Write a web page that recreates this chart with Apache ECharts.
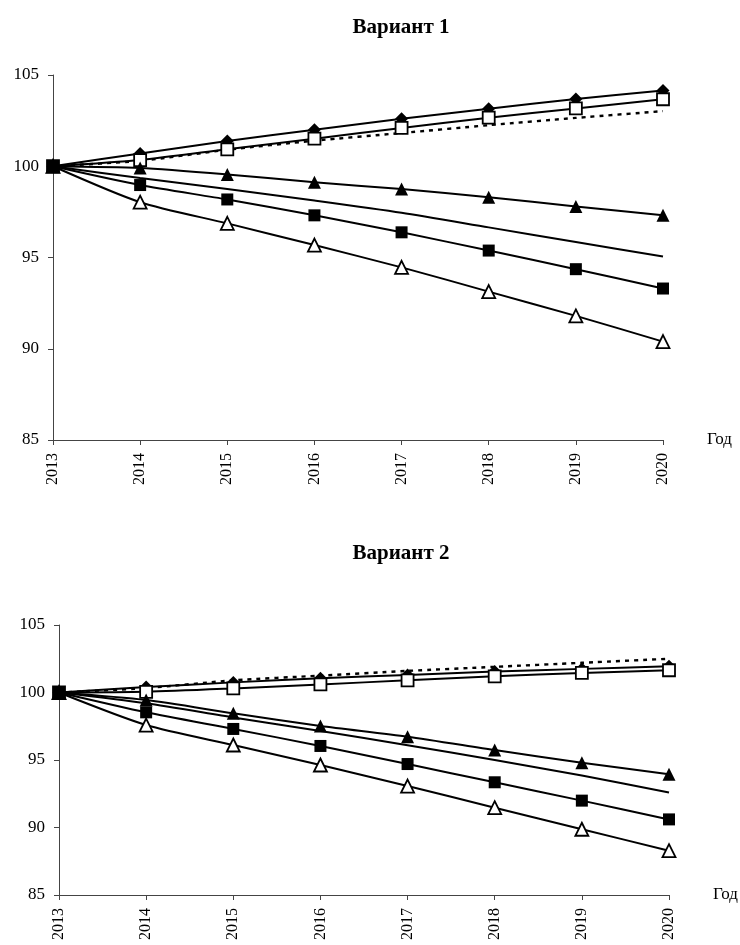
<!DOCTYPE html>
<html>
<head>
<meta charset="utf-8">
<script src="https://cdn.jsdelivr.net/npm/echarts@6/dist/echarts.min.js"></script>
<style>html,body{margin:0;padding:0;background:#fff}#c{width:740px;height:945px}</style>
</head>
<body>
<div id="c"></div>
<script>
var years = ['2013','2014','2015','2016','2017','2018','2019','2020'];
var yTicks = [85, 90, 95, 100, 105];
var titles = ['Вариант 1', 'Вариант 2'];
var xName = 'Год';

// Вариант 1
var v1Diamond  = [100, 100.7, 101.38, 102.0, 102.6, 103.15, 103.68, 104.15];
var v1OpenSq   = [100, 100.34, 100.93, 101.51, 102.1, 102.66, 103.17, 103.67];
var v1Dashed   = [100, 100.3, 100.9, 101.4, 101.82, 102.25, 102.65, 103.02];
var v1FillTri  = [100, 99.9, 99.55, 99.12, 98.75, 98.3, 97.8, 97.32];
var v1Plain    = [100, 99.35, 98.75, 98.12, 97.45, 96.65, 95.85, 95.05];
var v1FillSq   = [100, 98.97, 98.18, 97.31, 96.38, 95.38, 94.36, 93.3];
var v1OpenTri  = [100, 98.03, 96.87, 95.68, 94.46, 93.13, 91.8, 90.39];

// Вариант 2
var v2Diamond  = [100, 100.4, 100.75, 101.05, 101.3, 101.55, 101.75, 101.95];
var v2OpenSq   = [100, 100.05, 100.3, 100.6, 100.9, 101.2, 101.45, 101.65];
var v2Dashed   = [100, 100.33, 100.9, 101.25, 101.6, 101.9, 102.2, 102.5];
var v2FillTri  = [100, 99.44, 98.46, 97.52, 96.73, 95.74, 94.8, 93.94];
var v2Plain    = [100, 99.2, 98.15, 97.15, 96.1, 95.0, 93.85, 92.6];
var v2FillSq   = [100, 98.53, 97.3, 96.04, 94.7, 93.35, 91.99, 90.6];
var v2OpenTri  = [100, 97.59, 96.11, 94.63, 93.07, 91.47, 89.87, 88.28];

var font = '"Liberation Serif", "Times New Roman", serif';
var grids = [
  {left: 53, right: 77, top: 75, height: 365},
  {left: 59, right: 71, top: 625, height: 270}
];

function xAxis(i) {
  return {
    type: 'category', gridIndex: i, data: years, boundaryGap: false,
    name: xName, nameLocation: 'end', nameGap: 44,
    nameTextStyle: {fontFamily: font, fontSize: 17, color: '#000', verticalAlign: 'middle', padding: [12, 0, 0, 0]},
    axisLine: {lineStyle: {color: '#444', width: 1}},
    axisTick: {show: true, alignWithLabel: true, length: 5, lineStyle: {color: '#444'}},
    axisLabel: {rotate: 90, fontFamily: font, fontSize: 16, color: '#000', margin: 13, interval: 0},
    splitLine: {show: false}
  };
}
function yAxis(i) {
  return {
    type: 'value', gridIndex: i, min: yTicks[0], max: yTicks[yTicks.length - 1], interval: 5,
    axisLine: {show: true, lineStyle: {color: '#444', width: 1}},
    axisTick: {show: true, length: 5, lineStyle: {color: '#444'}},
    axisLabel: {fontFamily: font, fontSize: 17, color: '#000', margin: 14},
    splitLine: {show: false}
  };
}

function line(i, data, symbol, fill, dashed, size) {
  return {
    type: 'line', xAxisIndex: i, yAxisIndex: i, data: data,
    smooth: 0.25,
    symbol: symbol || 'none', symbolSize: size || 10, showSymbol: !!symbol,
    lineStyle: {color: '#000', width: dashed ? 2.4 : 2, type: dashed ? [4, 5] : 'solid'},
    itemStyle: {color: fill, borderColor: '#000', borderWidth: fill === '#fff' ? 1.8 : 0},
    emphasis: {disabled: true},
    silent: true, animation: false
  };
}

var series = [];
[[v1Dashed, v1Plain, v1Diamond, v1OpenSq, v1FillTri, v1OpenTri, v1FillSq],
 [v2Dashed, v2Plain, v2Diamond, v2OpenSq, v2FillTri, v2OpenTri, v2FillSq]].forEach(function (s, i) {
  series.push(line(i, s[0], null, null, true));
  series.push(line(i, s[1], null, null, false));
  series.push(line(i, s[2], 'diamond', '#000', false, 13));
  series.push(line(i, s[3], 'rect', '#fff', false, 12));
  series.push(line(i, s[4], 'triangle', '#000', false, 13));
  series.push(line(i, s[5], 'triangle', '#fff', false, 13));
  series.push(line(i, s[6], 'rect', '#000', false, 12));
});

var chart = echarts.init(document.getElementById('c'));
chart.setOption({
  backgroundColor: '#fff',
  animation: false,
  title: [
    {text: titles[0], left: 396, top: 12, textAlign: 'center', textStyle: {fontFamily: font, fontSize: 21, fontWeight: 'bold', color: '#000'}},
    {text: titles[1], left: 396, top: 538, textAlign: 'center', textStyle: {fontFamily: font, fontSize: 21, fontWeight: 'bold', color: '#000'}}
  ],
  grid: grids,
  xAxis: [xAxis(0), xAxis(1)],
  yAxis: [yAxis(0), yAxis(1)],
  series: series
});
</script>
</body>
</html>
